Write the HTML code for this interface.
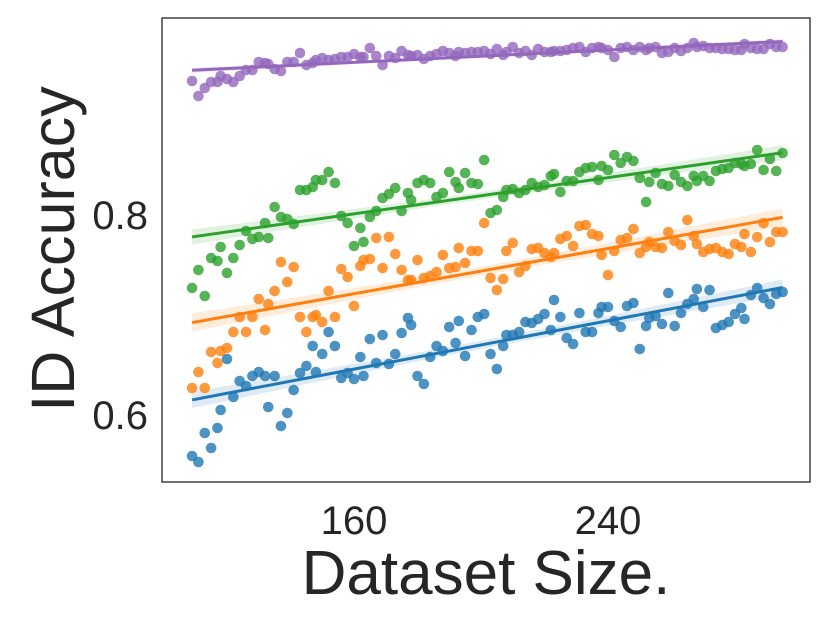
<!DOCTYPE html>
<html><head><meta charset="utf-8"><style>
html,body{margin:0;padding:0;background:#fff;}
svg{display:block;font-family:"Liberation Sans",Arial,sans-serif;}
</style></head><body>
<svg id="chart" width="830" height="623" viewBox="0 0 830 623">
<rect x="0" y="0" width="830" height="623" fill="#fff"/>
<g id="bands"></g>
<g id="dots"></g>
<g id="lines"></g>
<rect x="162" y="18" width="648" height="464" fill="none" stroke="#262626" stroke-width="1.3"/>
<g id="ticks" fill="#262626" font-size="40"></g>
<text x="486" y="594" text-anchor="middle" font-size="62" fill="#262626">Dataset Size.</text>
<text transform="translate(74,249) rotate(-90)" text-anchor="middle" font-size="61" fill="#262626">ID Accuracy</text>
</svg>
<script>
const sizes=[109,111,113,115,117,118,120,122,124,126,128,130,132,133,135,137,139,141,143,145,147,148,150,152,154,156,158,160,162,163,165,167,169,171,173,175,177,178,180,182,184,186,188,190,192,193,195,197,199,201,203,205,207,208,210,212,214,216,218,220,222,223,225,227,229,231,233,235,237,238,240,242,244,246,248,250,252,253,255,257,259,261,263,265,267,268,270,272,274,276,278,280,282,283,285,287,289,291,293,295];
const purpleAcc=[0.934,0.919,0.927,0.933,0.933,0.939,0.936,0.933,0.939,0.945,0.945,0.953,0.952,0.951,0.946,0.944,0.953,0.953,0.962,0.950,0.952,0.955,0.957,0.955,0.956,0.958,0.958,0.961,0.958,0.958,0.967,0.959,0.950,0.959,0.957,0.964,0.960,0.959,0.960,0.956,0.959,0.961,0.964,0.962,0.959,0.963,0.962,0.963,0.963,0.964,0.961,0.966,0.960,0.963,0.968,0.962,0.964,0.960,0.966,0.963,0.963,0.964,0.964,0.965,0.967,0.968,0.963,0.967,0.968,0.967,0.965,0.958,0.967,0.968,0.965,0.968,0.965,0.967,0.968,0.962,0.963,0.967,0.964,0.967,0.972,0.968,0.969,0.967,0.967,0.966,0.966,0.965,0.965,0.971,0.967,0.966,0.966,0.971,0.968,0.968];
const greenAcc=[0.727,0.745,0.719,0.757,0.754,0.768,0.742,0.757,0.770,0.784,0.776,0.778,0.792,0.777,0.808,0.798,0.796,0.791,0.825,0.825,0.828,0.835,0.835,0.843,0.832,0.799,0.792,0.769,0.787,0.773,0.798,0.804,0.817,0.821,0.827,0.804,0.822,0.815,0.832,0.835,0.832,0.818,0.822,0.843,0.833,0.827,0.842,0.832,0.831,0.855,0.802,0.805,0.818,0.825,0.826,0.822,0.825,0.832,0.828,0.830,0.839,0.841,0.823,0.834,0.834,0.843,0.847,0.848,0.835,0.849,0.845,0.860,0.852,0.858,0.854,0.837,0.813,0.833,0.842,0.831,0.829,0.840,0.833,0.829,0.839,0.834,0.839,0.834,0.844,0.846,0.847,0.852,0.851,0.849,0.851,0.865,0.845,0.856,0.844,0.862];
const orangeAcc=[0.627,0.643,0.627,0.663,0.652,0.664,0.667,0.683,0.698,0.683,0.698,0.716,0.685,0.711,0.724,0.753,0.733,0.748,0.698,0.683,0.698,0.700,0.693,0.724,0.698,0.746,0.738,0.709,0.749,0.755,0.756,0.777,0.747,0.778,0.761,0.745,0.735,0.735,0.755,0.737,0.739,0.743,0.760,0.747,0.748,0.767,0.752,0.764,0.764,0.792,0.737,0.725,0.736,0.764,0.772,0.743,0.749,0.766,0.767,0.762,0.758,0.762,0.776,0.779,0.769,0.789,0.790,0.781,0.779,0.760,0.740,0.764,0.775,0.777,0.786,0.762,0.768,0.773,0.768,0.767,0.783,0.774,0.770,0.795,0.779,0.771,0.763,0.766,0.767,0.763,0.761,0.771,0.768,0.781,0.763,0.778,0.792,0.773,0.783,0.783];
const blueAcc=[0.559,0.553,0.582,0.567,0.587,0.605,0.656,0.618,0.634,0.629,0.639,0.643,0.639,0.608,0.639,0.589,0.602,0.625,0.642,0.649,0.669,0.643,0.661,0.683,0.669,0.637,0.642,0.636,0.658,0.639,0.676,0.652,0.680,0.651,0.661,0.682,0.697,0.690,0.639,0.631,0.658,0.669,0.664,0.688,0.672,0.694,0.659,0.685,0.698,0.701,0.661,0.646,0.669,0.680,0.680,0.683,0.693,0.692,0.696,0.701,0.685,0.715,0.698,0.677,0.671,0.702,0.683,0.683,0.702,0.708,0.708,0.694,0.688,0.709,0.712,0.666,0.689,0.697,0.699,0.691,0.722,0.689,0.702,0.711,0.716,0.726,0.708,0.725,0.687,0.690,0.693,0.701,0.707,0.696,0.720,0.727,0.717,0.711,0.721,0.723];
const xTicks=[160,240];
const yTicks=[0.6,0.8];

const NS="http://www.w3.org/2000/svg";
function xs(v){return 354+(v-160)*3.175;}
function ys(v){return 215-(v-0.8)*1000;}
function mk(tag,attrs,parent){const e=document.createElementNS(NS,tag);for(const k in attrs)e.setAttribute(k,attrs[k]);parent.appendChild(e);return e;}
const series=[
 {name:'blue',c:'#1f77b4',d:blueAcc},
 {name:'orange',c:'#ff7f0e',d:orangeAcc},
 {name:'green',c:'#2ca02c',d:greenAcc},
 {name:'purple',c:'#9467bd',d:purpleAcc}];
const bands=document.getElementById('bands'),dots=document.getElementById('dots'),lines=document.getElementById('lines');
series.forEach(s=>{
  const n=s.d.length;let mx=0,my=0;
  for(let i=0;i<n;i++){mx+=sizes[i];my+=s.d[i];}mx/=n;my/=n;
  let sxx=0,sxy=0;for(let i=0;i<n;i++){sxx+=(sizes[i]-mx)**2;sxy+=(sizes[i]-mx)*(s.d[i]-my);}
  const b=sxy/sxx,a=my-b*mx;
  let sse=0;for(let i=0;i<n;i++)sse+=(s.d[i]-a-b*sizes[i])**2;
  const se=Math.sqrt(sse/(n-2));
  const x0=sizes[0],x1=sizes[n-1];
  const up=[],lo=[];
  for(let k=0;k<=20;k++){const x=x0+(x1-x0)*k/20;const yh=a+b*x;const h=1.98*se*Math.sqrt(1/n+(x-mx)**2/sxx);
    up.push(xs(x).toFixed(1)+','+ys(yh+h).toFixed(1));lo.unshift(xs(x).toFixed(1)+','+ys(yh-h).toFixed(1));}
  const band=mk('polygon',{points:up.concat(lo).join(' '),fill:s.c,'fill-opacity':0.15},bands);
  
  
  for(let i=0;i<n;i++){
    const p=mk('circle',{cx:xs(sizes[i]),cy:ys(s.d[i]),r:5.3,fill:s.c,'fill-opacity':0.8},dots);
    
    
  }
  const l=mk('line',{x1:xs(x0),y1:ys(a+b*x0),x2:xs(x1),y2:ys(a+b*x1),stroke:s.c,'stroke-width':3},lines);
  
  
});
const ticks=document.getElementById('ticks');
xTicks.forEach(v=>{const t=mk('text',{x:xs(v),y:534,'text-anchor':'middle'},ticks);t.textContent=v;
  
  });
yTicks.forEach(v=>{const t=mk('text',{x:148,y:ys(v)+14,'text-anchor':'end'},ticks);t.textContent=v.toFixed(1);
  
  });
</script>
</body></html>
